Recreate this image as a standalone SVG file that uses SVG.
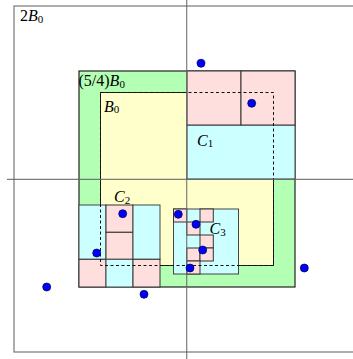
<svg xmlns="http://www.w3.org/2000/svg" width="353" height="359" viewBox="0 0 353 359">
<style>
.outer{fill:#fff;stroke:#777;stroke-width:1.2}
.grn{fill:#b3ffb3;stroke:#222;stroke-width:1.2}
.yel{fill:#ffffcc;stroke:#222;stroke-width:1}
.cy{fill:#ccffff;stroke:#444;stroke-width:1}
.pk{fill:#ffdede;stroke:#333;stroke-width:1}
.dash{fill:none;stroke:#111;stroke-width:1;stroke-dasharray:3,2.5}
.axis{stroke:#666;stroke-width:1.2;opacity:0.85}
.dot{fill:#0000ff;stroke:#000044;stroke-width:0.7}
text{font-family:"Liberation Serif",serif;font-size:16px;fill:#000}
.it{font-style:italic}
.sub{font-size:11px;font-style:normal}
</style>
<rect width="353" height="359" fill="#fff"/>
<g id="B2">
<rect class="outer" x="14" y="6" width="346" height="346"/>
<text x="20" y="21">2<tspan class="it">B</tspan><tspan class="sub" dy="1.5">0</tspan></text>
</g>
<g id="B54">
<rect class="grn" x="79" y="71" width="216" height="216"/>
<text x="78.5" y="86">(5/4)<tspan class="it">B</tspan><tspan class="sub" dy="1.5">0</tspan></text>
</g>
<g id="B0">
<rect class="yel" x="100.5" y="92.5" width="173" height="173"/>
<text x="104" y="111.5" class="it">B<tspan class="sub" dy="1.5">0</tspan></text>
</g>
<g id="C1">
<rect class="cy" x="187" y="125" width="108" height="54"/>
<rect class="pk" x="187" y="71" width="54" height="54"/>
<rect class="pk" x="241" y="71" width="54" height="54"/>
<text x="197" y="145.5" class="it">C<tspan class="sub" dy="1.5">1</tspan></text>
</g>
<g id="C2">
<rect class="cy" x="79" y="205" width="27" height="54.3"/>
<rect class="pk" x="79" y="259.3" width="27" height="27.7"/>
<rect class="pk" x="106" y="205" width="27" height="27.3"/>
<rect class="pk" x="106" y="232.3" width="27" height="27"/>
<rect class="cy" x="106" y="259.3" width="27" height="27.7"/>
<rect class="cy" x="133" y="205" width="27" height="54.3"/>
<rect class="pk" x="133" y="259.3" width="27" height="27.7"/>
<text x="114" y="202" class="it">C<tspan class="sub" dy="1.5">2</tspan></text>
</g>
<g id="C3">
<rect class="cy" x="173.5" y="209" width="65" height="65"/>
<rect class="pk" x="173.5" y="209" width="13.3" height="13"/>
<rect class="pk" x="200" y="209" width="13.3" height="13"/>
<rect class="pk" x="186.8" y="222" width="13.2" height="13"/>
<rect class="pk" x="200" y="235" width="13.3" height="13"/>
<rect class="pk" x="186.8" y="248" width="13.2" height="13"/>
<rect class="pk" x="200" y="248" width="13.3" height="13"/>
<rect class="pk" x="186.8" y="261" width="13.2" height="13"/>
<text x="209.5" y="234" class="it">C<tspan class="sub" dy="1.5">3</tspan></text>
</g>
<g id="connectors">
<rect class="dash" x="100.5" y="92.5" width="173" height="173"/>
<line class="axis" x1="7" y1="179.3" x2="353" y2="179.3"/>
<line class="axis" x1="186.7" y1="0" x2="186.7" y2="359"/>
</g>
<g id="points">
<circle class="dot" cx="201" cy="63.3" r="4"/>
<circle class="dot" cx="251.7" cy="103.3" r="4"/>
<circle class="dot" cx="122.7" cy="213.7" r="4"/>
<circle class="dot" cx="96.7" cy="253" r="4"/>
<circle class="dot" cx="46.7" cy="287" r="4"/>
<circle class="dot" cx="144" cy="294.3" r="4"/>
<circle class="dot" cx="178.3" cy="214.3" r="4"/>
<circle class="dot" cx="196" cy="224.3" r="4"/>
<circle class="dot" cx="202.7" cy="250" r="4"/>
<circle class="dot" cx="190" cy="268" r="4"/>
<circle class="dot" cx="304.3" cy="268" r="4"/>
</g>
</svg>
